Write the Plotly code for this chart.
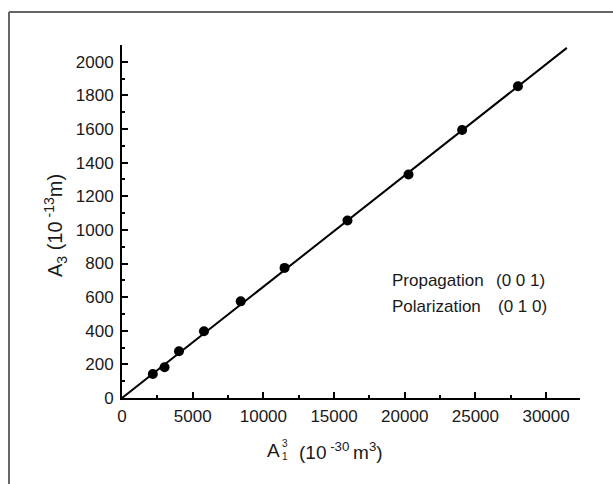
import plotly.graph_objects as go

# Data
a1_cubed = [2180, 3010, 4030, 5800, 8400, 11500, 15950, 20270, 24060, 28010]
a3 = [143, 183, 278, 397, 575, 774, 1056, 1330, 1594, 1855]
fit_x = [0, 31470]
fit_y = [0, 2083]
x_ticks = [0, 5000, 10000, 15000, 20000, 25000, 30000]
y_ticks = [0, 200, 400, 600, 800, 1000, 1200, 1400, 1600, 1800, 2000]

W, H = 613, 484
L, R, T, B = 122, 33, 45, 86
PW, PH = W - L - R, H - T - B

def px(x):
    return (x - L) / PW

def py(y):
    return (H - B - y) / PH

FONT = "Liberation Sans, Arial, Helvetica, sans-serif"
INK = "#1a1a1a"

fig = go.Figure()
fig.add_trace(go.Scatter(x=fit_x, y=fit_y, mode="lines",
                         line=dict(color="black", width=2), showlegend=False,
                         hoverinfo="skip"))
fig.add_trace(go.Scatter(x=a1_cubed, y=a3, mode="markers",
                         marker=dict(color="black", size=10), showlegend=False))

fig.update_xaxes(range=[0, 32400], tickvals=x_ticks,
                 ticktext=[str(v) for v in x_ticks],
                 showgrid=False, zeroline=False, showline=True,
                 linecolor="black", linewidth=2, ticks="inside", ticklen=6,
                 tickwidth=1.5, tickcolor="black",
                 minor=dict(dtick=2500, ticks="inside", ticklen=3,
                            tickwidth=1.5, tickcolor="black", showgrid=False),
                 tickfont=dict(family=FONT, size=17, color=INK),
                 ticklabelstandoff=2)
fig.update_yaxes(range=[0, 2100], tickvals=y_ticks,
                 ticktext=[str(v) for v in y_ticks],
                 showgrid=False, zeroline=False, showline=True,
                 linecolor="black", linewidth=2, ticks="inside", ticklen=6,
                 tickwidth=1.5, tickcolor="black",
                 minor=dict(dtick=100, ticks="inside", ticklen=3,
                            tickwidth=1.5, tickcolor="black", showgrid=False),
                 tickfont=dict(family=FONT, size=17, color=INK),
                 ticklabelstandoff=3)

def note(x, y, text, size, xanchor="left", **kw):
    return dict(x=px(x), y=py(y), xref="paper", yref="paper", text=text,
                showarrow=False, font=dict(family=FONT, size=size, color=INK),
                xanchor=xanchor, yanchor="middle", borderpad=0, **kw)

ann = [
    # Y title
    note(55, 226, "A<sub>3</sub> (10<sup> -13</sup>m)", 20, xanchor="center",
         textangle=-90),
    # X title: A with stacked super/subscript, then the unit
    note(266, 450, "A", 19),
    note(280.5, 443.5, "3", 10),
    note(280.5, 456.5, "1", 10),
    note(298, 451, "(10<sup> -30 </sup>m<sup>3</sup>)", 19),
    # Legend text
    note(391, 280, "Propagation", 17),
    note(495, 280, "(0 0 1)", 17),
    note(391, 306, "Polarization", 17),
    note(497, 306, "(0 1 0)", 17),
]

shapes = [
    dict(type="line", xref="paper", yref="paper", x0=px(9), x1=px(620),
         y0=py(12), y1=py(12), line=dict(color="#666666", width=2)),
    dict(type="line", xref="paper", yref="paper", x0=px(9), x1=px(9),
         y0=py(12), y1=py(490), line=dict(color="#666666", width=2)),
]

fig.update_layout(width=W, height=H, margin=dict(l=L, r=R, t=T, b=B),
                  paper_bgcolor="white", plot_bgcolor="white",
                  annotations=ann, shapes=shapes, showlegend=False)

fig.write_html("out.html", config={"displayModeBar": False},
               post_script="document.body.style.margin='0';document.body.style.padding='0';")
